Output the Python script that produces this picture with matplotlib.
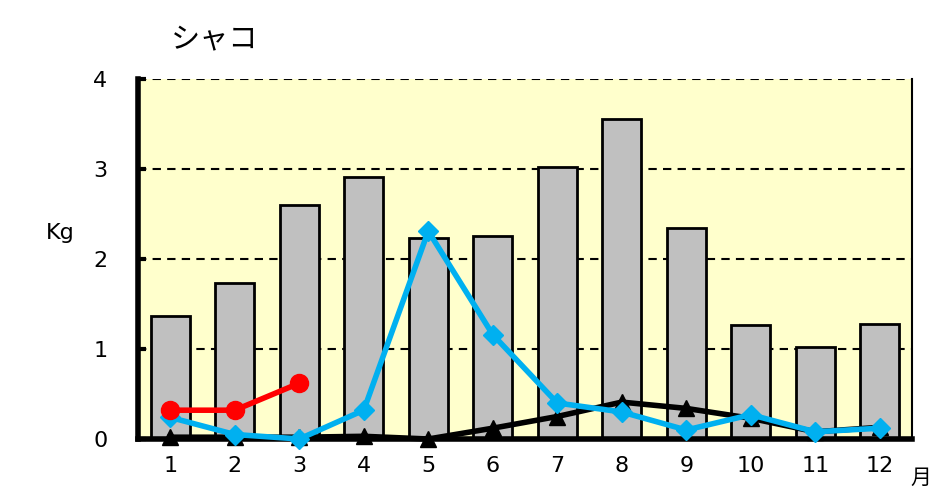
import matplotlib
matplotlib.use("Agg")
import matplotlib.pyplot as plt

months = [1, 2, 3, 4, 5, 6, 7, 8, 9, 10, 11, 12]
month_labels = ["1", "2", "3", "4", "5", "6", "7", "8", "9", "10", "11", "12"]
bar_values = [1.37, 1.73, 2.60, 2.91, 2.23, 2.26, 3.02, 3.56, 2.34, 1.27, 1.02, 1.28]
red_months = [1, 2, 3]
red_values = [0.32, 0.32, 0.62]
blue_values = [0.24, 0.05, 0.0, 0.32, 2.31, 1.16, 0.40, 0.30, 0.10, 0.27, 0.08, 0.12]
black_values = [0.02, 0.02, 0.02, 0.03, 0.0, 0.12, 0.25, 0.41, 0.34, 0.23, 0.08, 0.13]
yticks = [0, 1, 2, 3, 4]

plt.rcParams['font.family'] = ['DejaVu Sans', 'Noto Sans CJK JP']

fig = plt.figure(figsize=(9.33, 4.92), dpi=100)
ax = fig.add_axes([138/933, 1-439/492, (912-138)/933, (439-79)/492])
ax.set_facecolor('#FFFFCC')

ax.bar(months, bar_values, width=0.6, color='#C0C0C0', edgecolor='black', linewidth=2, zorder=2)
for y in [1, 2, 3, 4]:
    ax.axhline(y, color='black', linestyle=(0, (4, 3)), linewidth=1.5, zorder=1)

ax.plot(months, black_values, color='black', linewidth=4, marker='^', markersize=12, zorder=3, clip_on=False)
ax.plot(months, blue_values, color='#00B0F0', linewidth=4, marker='D', markersize=10, zorder=4, clip_on=False)
ax.plot(red_months, red_values, color='#FF0000', linewidth=4, marker='o', markersize=13, zorder=5, clip_on=False)

ax.set_xlim(0.5, 12.5)
ax.set_ylim(0, 4)
ax.set_yticks(yticks)
ax.set_yticklabels([str(v) for v in yticks], fontsize=16)
ax.set_xticks(months)
ax.set_xticklabels(month_labels, fontsize=16)
ax.tick_params(axis='x', length=0, pad=12)
ax.tick_params(axis='y', direction='in', length=6, width=3, pad=22)

for s in ['left', 'bottom']:
    ax.spines[s].set_linewidth(4)
ax.spines['right'].set_linewidth(1.5)
ax.spines['top'].set_visible(False)

fig.text(215/933, 1-40/492, 'シャコ', fontsize=21, family=['Noto Sans CJK JP'], ha='center', va='center')
fig.text(60/933, 1-233/492, 'Kg', fontsize=16, ha='center', va='center')
fig.text(931/933, 1-478/492, '月', fontsize=15, family=['Noto Sans CJK JP'], ha='right', va='center')

fig.savefig('out.png', dpi=100)
